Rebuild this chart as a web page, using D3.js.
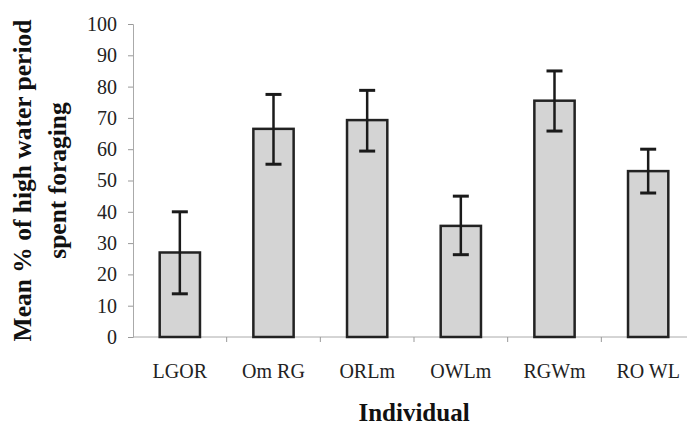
<!DOCTYPE html>
<html><head><meta charset="utf-8">
<script src="https://cdn.jsdelivr.net/npm/d3@7"></script>
<style>html,body{margin:0;padding:0;background:#fff;}svg{display:block;}</style>
</head><body>
<svg id="chart" width="693" height="427"></svg>
<script>
const categories = ["LGOR", "Om RG", "ORLm", "OWLm", "RGWm", "RO WL"];
const means = [27, 66.5, 69.3, 35.5, 75.5, 53];
const errLow = [13.8, 55.2, 59.4, 26.3, 65.8, 46];
const errHigh = [40, 77.5, 78.8, 45, 85, 60];
const yTicks = [0, 10, 20, 30, 40, 50, 60, 70, 80, 90, 100];
const yTitleLines = ["Mean % of high water period", "spent foraging"];
const xTitle = "Individual";

const svg = d3.select("#chart");
const mLeft = 133, mRight = 695, mTop = 24, mBottom = 337;

const x = d3.scaleBand().domain(categories).range([mLeft, mRight]).paddingInner(0.57).paddingOuter(0.285);
const y = d3.scaleLinear().domain([0, 100]).range([mBottom, mTop]);
const step = x.step();

// y axis
const yAxis = svg.append("g").attr("transform", `translate(${mLeft},0)`)
  .call(d3.axisLeft(y).tickValues(yTicks).tickSize(5).tickPadding(11));
yAxis.select(".domain").attr("stroke", "#aaa").attr("stroke-width", 1);
yAxis.selectAll(".tick line").attr("stroke", "#999");
yAxis.selectAll(".tick text").attr("font-family", "Liberation Serif, Times New Roman, serif")
  .attr("font-size", 20).attr("fill", "#222");

// x axis line and boundary ticks
const xg = svg.append("g");
xg.append("line").attr("x1", mLeft).attr("x2", x.range()[1] - 8).attr("y1", y(0)).attr("y2", y(0))
  .attr("stroke", "#aaa").attr("stroke-width", 1);
xg.selectAll("line.bt").data(categories.slice(1)).join("line").attr("class", "bt")
  .attr("x1", d => x(d) - x.paddingInner() * step / 2).attr("x2", d => x(d) - x.paddingInner() * step / 2)
  .attr("y1", y(0)).attr("y2", y(0) + 5).attr("stroke", "#999");
xg.selectAll("text").data(categories).join("text")
  .attr("x", d => x(d) + x.bandwidth() / 2).attr("y", y(0) + 41)
  .attr("text-anchor", "middle").attr("font-family", "Liberation Serif, Times New Roman, serif")
  .attr("font-size", 20).attr("fill", "#222").text(d => d);

// bars
svg.append("g").selectAll("rect").data(categories).join("rect")
  .attr("x", d => x(d)).attr("width", x.bandwidth())
  .attr("y", (d, i) => y(means[i])).attr("height", (d, i) => y(0) - y(means[i]))
  .attr("fill", "#d4d4d4").attr("stroke", "#222").attr("stroke-width", 2.5);

// error bars
const eb = svg.append("g").attr("stroke", "#1a1a1a").attr("stroke-width", 2.5);
categories.forEach((c, i) => {
  const cx = x(c) + x.bandwidth() / 2;
  eb.append("line").attr("x1", cx).attr("x2", cx).attr("y1", y(errHigh[i])).attr("y2", y(errLow[i]));
  eb.append("line").attr("x1", cx - 8).attr("x2", cx + 8).attr("y1", y(errHigh[i])).attr("y2", y(errHigh[i])).attr("stroke-width", 3);
  eb.append("line").attr("x1", cx - 8).attr("x2", cx + 8).attr("y1", y(errLow[i])).attr("y2", y(errLow[i])).attr("stroke-width", 3);
});

// titles
svg.append("text").attr("x", (mLeft + mRight) / 2).attr("y", 421).attr("text-anchor", "middle")
  .attr("font-family", "Liberation Serif, Times New Roman, serif").attr("font-weight", "bold")
  .attr("font-size", 25).attr("fill", "#111").text(xTitle);
const yc = (mTop + mBottom) / 2;
yTitleLines.forEach((t, i) => {
  svg.append("text").attr("transform", `translate(${31 + i * 35},${yc}) rotate(-90)`)
    .attr("text-anchor", "middle").attr("font-family", "Liberation Serif, Times New Roman, serif")
    .attr("font-weight", "bold").attr("font-size", 25.5).attr("fill", "#111").text(t);
});
</script>
</body></html>
